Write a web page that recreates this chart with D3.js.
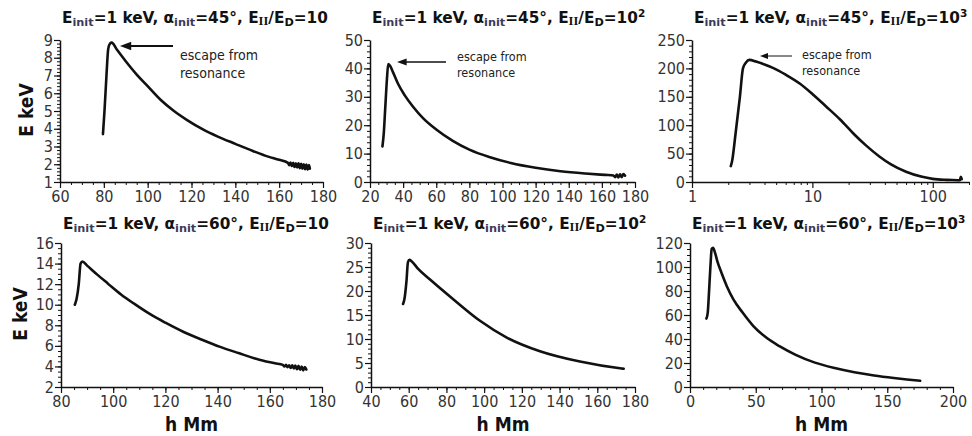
<!DOCTYPE html>
<html><head><meta charset="utf-8">
<script src="https://cdn.jsdelivr.net/npm/d3@7"></script>
<style>body{margin:0;background:#fff}svg{display:block}</style>
</head><body><svg id="c" width="972" height="436"></svg>
<script>
// ---------- data ----------
const alphas = ["45", "45", "45", "60", "60", "60"];
const ratioExp = ["", "2", "3", "", "2", "3"];

const p1H = [79.6, 80.3, 81.2, 82.0, 82.8, 83.6, 86, 90, 95, 100, 106, 112, 118, 125, 132, 140, 148, 155, 160, 164, 164.6, 165.2, 165.8, 166.4, 167, 167.6, 168.2, 168.8, 169.4, 170, 170.6, 171.2, 171.8, 172.4, 173, 173.6, 174];
const p1E = [3.7, 5.0, 7.0, 8.5, 8.8, 8.85, 8.45, 7.8, 7.05, 6.4, 5.62, 5.0, 4.49, 3.98, 3.56, 3.15, 2.75, 2.43, 2.25, 2.08, 1.95, 2.1, 1.9, 2.08, 1.85, 2.05, 1.82, 2.05, 1.78, 2.02, 1.75, 2.0, 1.72, 1.98, 1.7, 1.95, 1.75];

const p2H = [27.5, 28.3, 29.2, 30.2, 31.0, 32, 34, 37, 41, 46, 52, 60, 70, 80, 92, 105, 120, 135, 150, 162, 167, 168, 169, 170, 171, 172, 173, 174];
const p2E = [12.5, 17, 26, 36, 41.5, 41, 38.5, 34.5, 30.5, 26.5, 22.5, 18.5, 14.5, 11.4, 8.8, 6.7, 5.0, 3.8, 3.0, 2.5, 2.3, 1.7, 2.6, 1.6, 2.7, 1.7, 2.8, 2.2];

const p3H = [2.1, 2.15, 2.3, 2.5, 2.65, 2.8, 3.0, 3.4, 4.0, 4.7, 6, 7.9, 10, 13, 17, 22, 28, 36, 45, 60, 80, 100, 130, 160, 168, 171, 174];
const p3E = [28, 36, 85, 150, 200, 210, 215, 212, 207, 201, 189, 173, 155, 133, 110, 85, 64, 45, 31, 18, 9.5, 5.5, 3.8, 3.2, 3, 9, 5];

const p4H = [85.3, 86.0, 86.8, 87.5, 88.2, 90, 94, 98, 103, 108, 114, 120, 127, 134, 141, 148, 156, 162, 165, 165.6, 166.2, 166.8, 167.4, 168, 168.6, 169.2, 169.8, 170.4, 171, 171.6, 172.2, 172.8, 173.4, 174];
const p4E = [10.0, 10.6, 12.0, 14.0, 14.2, 13.8, 12.9, 12.05, 11.0, 10.1, 9.1, 8.25, 7.35, 6.6, 5.9, 5.3, 4.65, 4.3, 4.15, 4.0, 4.17, 3.92, 4.12, 3.85, 4.1, 3.8, 4.08, 3.72, 4.05, 3.68, 4.0, 3.62, 3.95, 3.7];

const p5H = [57.0, 57.8, 58.8, 59.6, 60.4, 61.5, 65, 71.3, 83.6, 97.8, 112, 129.6, 150.8, 172.9, 174];
const p5E = [17.3, 18.5, 22, 26, 26.5, 26.2, 24.6, 22.4, 18.3, 13.8, 10.3, 7.45, 5.3, 3.85, 3.8];

const p6H = [12.5, 13.5, 14.5, 15.5, 16.5, 17.5, 19, 21, 24, 28, 33, 40, 48, 57, 68, 80, 95, 110, 125, 140, 155, 165, 175];
const p6E = [57, 62, 80, 100, 115, 116, 112, 104, 95, 84, 73, 62, 51, 42, 34, 27, 20.3, 15.8, 12.3, 9.6, 7.5, 6.3, 5.2];

// axis domains and tick labels
const xDomains = [[60, 180], [20, 180], [1, 200], [80, 180], [40, 180], [0, 200]];
const yDomains = [[1, 9], [0, 50], [0, 250], [2, 16], [0, 30], [0, 120]];
const xMajor = [[60, 80, 100, 120, 140, 160, 180], [20, 40, 60, 80, 100, 120, 140, 160, 180], [1, 10, 100], [80, 100, 120, 140, 160, 180], [40, 60, 80, 100, 120, 140, 160, 180], [0, 50, 100, 150, 200]];
const xMinorStep = [5, 5, null, 5, 5, 10];
const yMajor = [[1, 2, 3, 4, 5, 6, 7, 8, 9], [0, 10, 20, 30, 40, 50], [0, 50, 100, 150, 200, 250], [2, 4, 6, 8, 10, 12, 14, 16], [0, 5, 10, 15, 20, 25, 30], [0, 20, 40, 60, 80, 100, 120]];
const yMinorStep = [0.2, 2, 10, 0.5, 1, 5];
const logMinor = [2, 3, 4, 5, 6, 7, 8, 9, 20, 30, 40, 50, 60, 70, 80, 90, 200];

const annotText = ["escape from", "resonance"];

// ---------- layout ----------
const panels = [
  {l: 60, r: 323, t: 40, b: 182, H: p1H, E: p1E},
  {l: 370, r: 635, t: 40, b: 182, H: p2H, E: p2E},
  {l: 692, r: 969, t: 40, b: 182, H: p3H, E: p3E, log: true},
  {l: 61, r: 322, t: 243, b: 387, H: p4H, E: p4E},
  {l: 371, r: 635, t: 243, b: 387, H: p5H, E: p5E},
  {l: 690, r: 953, t: 243, b: 387, H: p6H, E: p6E}
];
const annots = [
  {tx: 180, ty: 60, fs: 14, ax1: 173, ax2: 120, ay: 46, sw: 2, hs: 7},
  {tx: 457, ty: 61, fs: 12.5, ax1: 446, ax2: 397, ay: 62, sw: 1.5, hs: 6},
  {tx: 802, ty: 59, fs: 12.5, ax1: 792, ax2: 760, ay: 56, sw: 1, hs: 5}
];

const svg = d3.select("#c");
const labFont = "'DejaVu Sans Condensed','DejaVu Sans',sans-serif";

function range(a, b, s) { const o = []; for (let v = a; v <= b + 1e-9; v += s) o.push(+v.toFixed(6)); return o; }

panels.forEach((p, i) => {
  const x = p.log ? d3.scaleLog().domain(xDomains[i]).range([p.l, p.r])
                  : d3.scaleLinear().domain(xDomains[i]).range([p.l, p.r]);
  const y = d3.scaleLinear().domain(yDomains[i]).range([p.b, p.t]);
  const g = svg.append("g");

  // minor ticks
  const xm = p.log ? logMinor : range(xDomains[i][0], xDomains[i][1], xMinorStep[i]);
  const ym = range(yDomains[i][0], yDomains[i][1], yMinorStep[i]);
  g.append("g").attr("transform", `translate(0,${p.b})`)
    .call(d3.axisBottom(x).tickValues(xm).tickSize(3).tickSizeOuter(0).tickFormat(""))
    .call(s => s.select(".domain").remove());
  g.append("g").attr("transform", `translate(${p.l},0)`)
    .call(d3.axisLeft(y).tickValues(ym).tickSize(3).tickSizeOuter(0).tickFormat(""))
    .call(s => s.select(".domain").remove());

  // major ticks + labels
  const xa = g.append("g").attr("transform", `translate(0,${p.b})`)
    .call(d3.axisBottom(x).tickValues(xMajor[i]).tickSize(6).tickSizeOuter(0).tickPadding(3).tickFormat(d3.format("d")));
  const ya = g.append("g").attr("transform", `translate(${p.l},0)`)
    .call(d3.axisLeft(y).tickValues(yMajor[i]).tickSize(6).tickSizeOuter(0).tickPadding(1).tickFormat(d3.format("d")));
  [xa, ya].forEach(a => {
    a.selectAll("text").attr("font-family", labFont).attr("font-size", 16).attr("fill", "#333");
    a.selectAll("line").attr("stroke-width", 1.2);
    a.select(".domain").attr("stroke", "#111").attr("stroke-width", 1.5);
  });
  g.selectAll("line").attr("stroke", "#111");

  // curve
  const pts = p.H.map((h, k) => [h, p.E[k]]);
  g.append("path").datum(pts)
    .attr("fill", "none").attr("stroke", "#111").attr("stroke-width", 2.6)
    .attr("stroke-linejoin", "round").attr("stroke-linecap", "round")
    .attr("d", d3.line().x(d => x(d[0])).y(d => y(d[1])).curve(d3.curveMonotoneX));

  // title
  const row = i < 3 ? 0 : 1;
  const t = svg.append("text").attr("x", p.l + 2).attr("y", row === 0 ? 23 : 229)
    .attr("font-family", "'DejaVu Sans',sans-serif").attr("font-weight", "bold")
    .attr("font-size", 15.3).attr("fill", "#111");
  const sub = 11.3;
  t.append("tspan").text("E");
  t.append("tspan").attr("font-size", sub).attr("dy", 3).attr("fill", "#3a3a5a").text("init");
  t.append("tspan").attr("dy", -3).text("=1 keV, α");
  t.append("tspan").attr("font-size", sub).attr("dy", 3).attr("fill", "#3a3a5a").text("init");
  t.append("tspan").attr("dy", -3).text("=" + alphas[i] + "°, E");
  t.append("tspan").attr("font-family", "'Liberation Serif',serif").attr("font-size", 12.5).attr("dy", 2).text("II");
  t.append("tspan").attr("dy", -2).text("/E");
  t.append("tspan").attr("font-size", sub).attr("dy", 3).text("D");
  t.append("tspan").attr("dy", -3).text("=10");
  if (ratioExp[i]) t.append("tspan").attr("font-size", 10.5).attr("dy", -6).text(ratioExp[i]);
});

// y axis titles
[[26, 110], [20, 314]].forEach(([cx, cy]) => {
  svg.append("text").attr("transform", `translate(${cx},${cy}) rotate(-90)`)
    .attr("text-anchor", "middle").attr("dy", "0.35em")
    .attr("font-family", labFont).attr("font-weight", "bold").attr("font-size", 19).attr("fill", "#111")
    .text("E keV");
});
// x axis titles
[3, 4, 5].forEach(i => {
  const p = panels[i];
  svg.append("text").attr("x", (p.l + p.r) / 2).attr("y", 431)
    .attr("text-anchor", "middle")
    .attr("font-family", labFont).attr("font-weight", "bold").attr("font-size", 19).attr("fill", "#111")
    .text("h Mm");
});

// annotations
annots.forEach(a => {
  svg.append("line").attr("x1", a.ax1).attr("x2", a.ax2 + a.hs).attr("y1", a.ay).attr("y2", a.ay)
    .attr("stroke", "#111").attr("stroke-width", a.sw);
  svg.append("path")
    .attr("d", `M${a.ax2},${a.ay} L${a.ax2 + a.hs * 1.6},${a.ay - a.hs * 0.6} L${a.ax2 + a.hs * 1.6},${a.ay + a.hs * 0.6} Z`)
    .attr("fill", "#111");
  annotText.forEach((s, k) => {
    svg.append("text").attr("x", a.tx).attr("y", a.ty + k * a.fs * 1.25)
      .attr("font-family", labFont).attr("font-size", a.fs).attr("fill", "#222").text(s);
  });
});
</script></body></html>
